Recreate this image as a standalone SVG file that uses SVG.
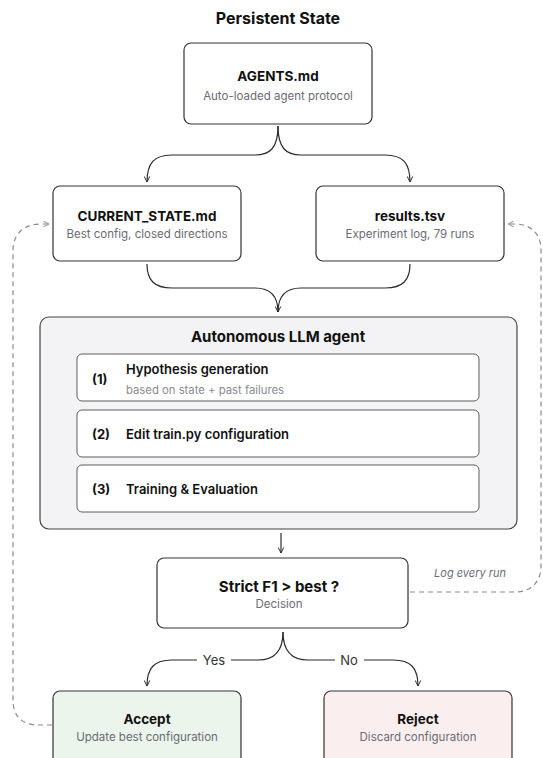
<svg xmlns="http://www.w3.org/2000/svg" width="543" height="758" viewBox="0 0 543 758">
  <defs>
    <marker id="arrow" viewBox="0 0 10 10" refX="9" refY="5" markerWidth="7" markerHeight="7" orient="auto-start-reverse" markerUnits="userSpaceOnUse">
      <path d="M1 1 L9 5 L1 9" fill="none" stroke="#2b2b2b" stroke-width="1.4"/>
    </marker>
    <marker id="arrow-dash" viewBox="0 0 10 10" refX="9" refY="5" markerWidth="7" markerHeight="7" orient="auto-start-reverse" markerUnits="userSpaceOnUse">
      <path d="M1 1 L9 5 L1 9" fill="none" stroke="#8a8a8a" stroke-width="1.4"/>
    </marker>
  </defs>
  <style>
    text { font-family: Inter, "Liberation Sans", sans-serif; }
    .box { fill: #ffffff; stroke: #333333; stroke-width: 1.2; }
    .panel { fill: #f3f3f5; stroke: #444444; stroke-width: 1.2; }
    .step { fill: #ffffff; stroke: #5e5e5e; stroke-width: 1; }
    .accept { fill: #ecf5ec; stroke: #333333; stroke-width: 1.2; }
    .reject { fill: #fbeeee; stroke: #333333; stroke-width: 1.2; }
    .title { font-size: 13.5px; font-weight: 700; fill: #111111; text-anchor: middle; }
    .sub { font-size: 11.5px; fill: #6b6b75; text-anchor: middle; }
    .heading { font-size: 16px; font-weight: 700; fill: #111111; text-anchor: middle; }
    .num { font-size: 13px; font-weight: 700; fill: #111111; }
    .stepText { font-size: 13px; font-weight: 600; fill: #111111; }
    .stepSub { font-size: 11.3px; fill: #8a8a92; }
    .label { font-size: 13px; fill: #333333; text-anchor: middle; }
    .note { font-size: 11px; font-style: italic; fill: #6b6b75; text-anchor: middle; }
    .wire { fill: none; stroke: #2b2b2b; stroke-width: 1.2; }
    .dash { fill: none; stroke: #8a8a8a; stroke-width: 1.2; stroke-dasharray: 5 4; }
  </style>

  <rect width="543" height="758" fill="#ffffff"/>

  <text class="heading" x="278" y="24">Persistent State</text>

  <g id="connectors">
    <!-- AGENTS.md fans out to the two state files -->
    <path class="wire" d="M278 126 C278 148 270 155 255 155 H172 C154 155 147 163 147 182" marker-end="url(#arrow)"/>
    <path class="wire" d="M278 126 C278 148 286 155 301 155 H385 C403 155 410 163 410 182" marker-end="url(#arrow)"/>
    <!-- state files merge into the agent -->
    <path class="wire" d="M147 264 C147 280 154 288 172 288 H255 C270 288 278 295 278 312" marker-end="url(#arrow)"/>
    <path class="wire" d="M410 264 C410 280 403 288 385 288 H301 C286 288 278 295 278 312"/>
    <!-- agent to decision -->
    <path class="wire" d="M281 533 V553" marker-end="url(#arrow)"/>
    <!-- decision branches -->
    <path class="wire" d="M283 632 C283 650 275 660 258 660 H231" />
    <path class="wire" d="M197 660 H172 C154 660 147 668 147 686" marker-end="url(#arrow)"/>
    <path class="wire" d="M283 632 C283 650 291 660 308 660 H335"/>
    <path class="wire" d="M364 660 H393 C411 660 418 668 418 686" marker-end="url(#arrow)"/>
    <text class="label" x="214" y="665">Yes</text>
    <text class="label" x="349" y="665">No</text>
    <!-- feedback loops -->
    <path class="dash" d="M52 725 H38 C22 725 13 716 13 700 V250 C13 234 24 224 40 224 H49" marker-end="url(#arrow-dash)"/>
    <path class="dash" d="M410 592 H515 C531 592 541 582 541 566 V250 C541 234 531 224 515 224 H508" marker-end="url(#arrow-dash)"/>
    <text class="note" x="470" y="577">Log every run</text>
  </g>

  <g id="agents-md">
    <rect class="box" x="184" y="43" width="188" height="81" rx="7"/>
    <text class="title" x="278" y="81">AGENTS.md</text>
    <text class="sub" x="278" y="100">Auto-loaded agent protocol</text>
  </g>

  <g id="current-state">
    <rect class="box" x="53" y="186" width="188" height="75" rx="7"/>
    <text class="title" x="147" y="221">CURRENT_STATE.md</text>
    <text class="sub" x="147" y="238">Best config, closed directions</text>
  </g>

  <g id="results-tsv">
    <rect class="box" x="316" y="186" width="188" height="75" rx="7"/>
    <text class="title" x="410" y="221">results.tsv</text>
    <text class="sub" x="410" y="238">Experiment log, 79 runs</text>
  </g>

  <g id="llm-agent">
    <rect class="panel" x="40" y="317" width="477" height="212" rx="9"/>
    <text class="title" x="278" y="342" style="font-size:15px">Autonomous LLM agent</text>
    <g id="step-1">
      <rect class="step" x="77" y="354" width="402" height="47" rx="5"/>
      <text class="num" x="92" y="384">(1)</text>
      <text class="stepText" x="126" y="374">Hypothesis generation</text>
      <text class="stepSub" x="126" y="394">based on state + past failures</text>
    </g>
    <g id="step-2">
      <rect class="step" x="77" y="410" width="402" height="47" rx="5"/>
      <text class="num" x="92" y="439">(2)</text>
      <text class="stepText" x="126" y="439">Edit train.py configuration</text>
    </g>
    <g id="step-3">
      <rect class="step" x="77" y="465" width="402" height="47" rx="5"/>
      <text class="num" x="92" y="494">(3)</text>
      <text class="stepText" x="126" y="494">Training &amp; Evaluation</text>
    </g>
  </g>

  <g id="decision">
    <rect class="box" x="157" y="558" width="251" height="70" rx="7"/>
    <text class="title" x="279" y="592" style="font-size:15px">Strict F1 &gt; best ?</text>
    <text class="sub" x="279" y="608">Decision</text>
  </g>

  <g id="accept">
    <rect class="accept" x="53" y="691" width="188" height="75" rx="7"/>
    <text class="title" x="147" y="724">Accept</text>
    <text class="sub" x="147" y="741">Update best configuration</text>
  </g>

  <g id="reject">
    <rect class="reject" x="324" y="691" width="188" height="75" rx="7"/>
    <text class="title" x="418" y="724">Reject</text>
    <text class="sub" x="418" y="741">Discard configuration</text>
  </g>
</svg>
